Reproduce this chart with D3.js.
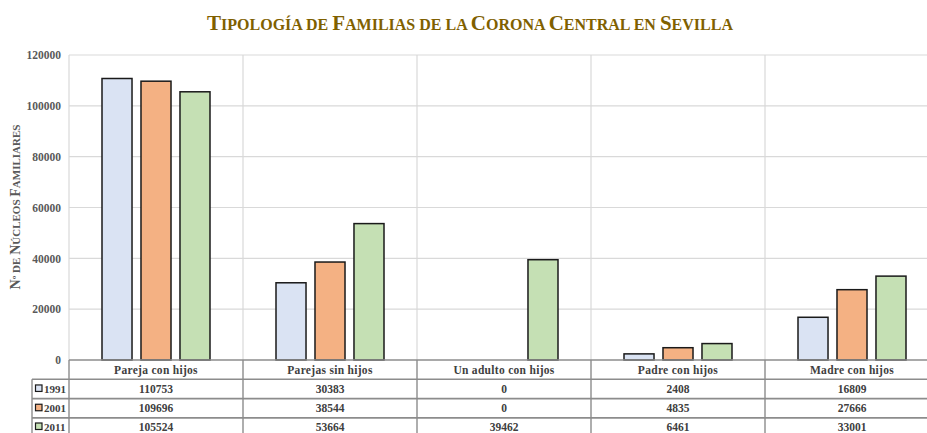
<!DOCTYPE html>
<html><head><meta charset="utf-8">
<script src="https://cdn.jsdelivr.net/npm/d3@7"></script>
<style>
html,body{margin:0;padding:0;background:#fff;}
svg{display:block;}
text{font-family:"Liberation Serif","Times New Roman",serif;}
</style></head>
<body>
<svg id="chart" width="927" height="433"></svg>
<script>
const categories = ["Pareja con hijos","Parejas sin hijos","Un adulto con hijos","Padre con hijos","Madre con hijos"];
const seriesNames = ["1991","2001","2011"];
const values1991 = [110753,30383,0,2408,16809];
const values2001 = [109696,38544,0,4835,27666];
const values2011 = [105524,53664,39462,6461,33001];
const yTicks = [0,20000,40000,60000,80000,100000,120000];
const colors = ["#dae3f3","#f4b183","#c5e0b4"];
const titleText = "Tipología de Familias de la Corona Central en Sevilla";
const yLabelText = "Nº de Núcleos Familiares";

const seriesValues = [values1991, values2001, values2011];
const svg = d3.select("#chart");
const W = 927, H = 433;
const plotL = 69, plotR = 939, plotT = 55, plotB = 360;
const tableL = 32;
const rowH = 19.3;

const x = d3.scaleBand().domain(categories).range([plotL, plotR]).padding(0);
const xs = d3.scaleBand().domain(seriesNames).range([33, 141]).paddingInner(0.23).paddingOuter(0);
const y = d3.scaleLinear().domain([0,120000]).range([plotB, plotT]);

function smallCaps(sel, text, big, small){
  const parts = [];
  for (const ch of text){
    const isUp = ch !== ch.toLowerCase() && ch === ch.toUpperCase();
    const size = isUp ? big : small;
    const c = ch.toUpperCase();
    if (parts.length && parts[parts.length-1].size === size) parts[parts.length-1].t += c;
    else parts.push({t:c,size});
  }
  parts.forEach(p => sel.append("tspan").attr("font-size", p.size).text(p.t));
}

// title
const title = svg.append("text").attr("x", 470).attr("y", 30).attr("text-anchor","middle")
  .attr("font-weight","bold").attr("fill","#7f6000");
smallCaps(title, titleText, 21, 16);

// horizontal gridlines
svg.append("g").selectAll("line").data(yTicks.filter(d=>d>0)).join("line")
  .attr("x1", plotL).attr("x2", plotR).attr("y1", d=>y(d)).attr("y2", d=>y(d))
  .attr("stroke","#d9d9d9").attr("stroke-width",1.2);

// vertical gridlines
const bounds = categories.map(c => x(c)).concat([plotR]);
svg.append("g").selectAll("line").data(bounds.slice(1)).join("line")
  .attr("x1", d=>d).attr("x2", d=>d).attr("y1", plotT).attr("y2", plotB)
  .attr("stroke","#d9d9d9").attr("stroke-width",1.2);
svg.append("line").attr("x1",plotL).attr("x2",plotL).attr("y1",plotT).attr("y2",plotB)
  .attr("stroke","#d9d9d9").attr("stroke-width",1.2);

// y axis tick labels
const yAxis = d3.axisLeft(y).tickValues(yTicks).tickSize(0).tickPadding(0).tickFormat(d3.format("d"));
const yg = svg.append("g").attr("transform", `translate(${plotL-8},0)`).call(yAxis);
yg.select(".domain").remove();
yg.selectAll("text").attr("font-family","Liberation Serif, serif").attr("font-size",11.5)
  .attr("font-weight","bold").attr("fill","#595959");

// y label
const yl = svg.append("text").attr("transform","translate(20,207) rotate(-90)")
  .attr("text-anchor","middle").attr("font-weight","bold").attr("fill","#595959");
smallCaps(yl, yLabelText, 14, 11);

// bars
seriesNames.forEach((s, si) => {
  svg.append("g").selectAll("rect").data(categories.map((c,i)=>({c, v: seriesValues[si][i]})))
    .join("rect")
    .attr("x", d => x(d.c) + xs(s))
    .attr("y", d => y(d.v))
    .attr("width", xs.bandwidth())
    .attr("height", d => plotB - y(d.v))
    .attr("fill", colors[si])
    .attr("stroke", d => d.v > 0 ? "#1a1a1a" : "none")
    .attr("stroke-width", 1.5);
});

// table
const tg = svg.append("g");
const lineColor = "#8c8c8c";
const rowYs = [plotB, plotB+rowH, plotB+2*rowH, plotB+3*rowH];
tg.append("line").attr("x1",plotL).attr("x2",plotR).attr("y1",plotB).attr("y2",plotB)
  .attr("stroke","#8c8c8c").attr("stroke-width",1.6);
rowYs.slice(1).forEach(yy => {
  tg.append("line").attr("x1",tableL).attr("x2",plotR).attr("y1",yy).attr("y2",yy)
    .attr("stroke",lineColor).attr("stroke-width",1.6);
});
bounds.forEach(bx => {
  tg.append("line").attr("x1",bx).attr("x2",bx).attr("y1",plotB).attr("y2",H+5)
    .attr("stroke",lineColor).attr("stroke-width",1.4);
});
tg.append("line").attr("x1",tableL).attr("x2",tableL).attr("y1",plotB+rowH).attr("y2",H+5)
  .attr("stroke",lineColor).attr("stroke-width",1.4);

tg.selectAll("text.hdr").data(categories).join("text").attr("class","hdr")
  .attr("x", c => x(c) + x.bandwidth()/2).attr("y", plotB + rowH/2 + 4)
  .attr("text-anchor","middle").attr("font-size",11.5).attr("font-weight","bold")
  .attr("letter-spacing",0.3).attr("fill","#404040").text(c => c);

seriesNames.forEach((s, si) => {
  const ry = plotB + rowH*(si+1);
  const ty = Math.min(ry + rowH/2 + 4, H - 2);
  tg.append("rect").attr("x", tableL+3.5).attr("y", ty - 8).attr("width",6.5).attr("height",6.5)
    .attr("fill", colors[si]).attr("stroke","#1a1a1a").attr("stroke-width",1.2);
  tg.append("text").attr("x", tableL+12).attr("y", ty)
    .attr("font-size",11).attr("font-weight","bold").attr("fill","#404040").text(s);
  tg.selectAll("text.v"+si).data(categories.map((c,i)=>({c, v: seriesValues[si][i]}))).join("text")
    .attr("class","v"+si)
    .attr("x", d => x(d.c) + x.bandwidth()/2).attr("y", ty)
    .attr("text-anchor","middle").attr("font-size",11.5).attr("font-weight","bold")
    .attr("fill","#404040").text(d => d.v);
});
</script>
</body></html>
